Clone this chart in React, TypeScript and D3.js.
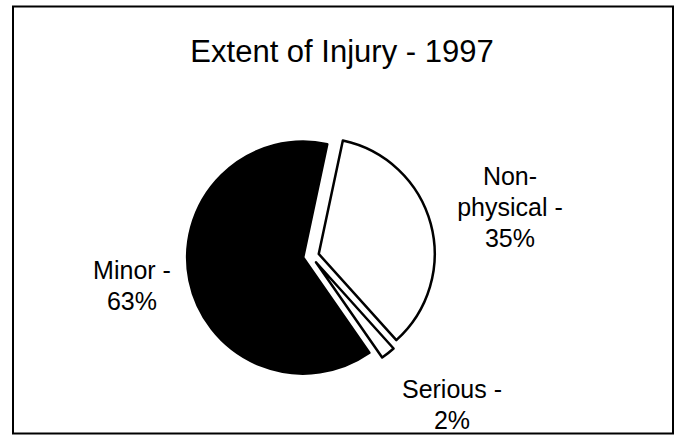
import React from "react";
import * as d3 from "d3";

const title = "Extent of Injury - 1997";
const categories = ["Non-physical", "Serious", "Minor"];
const values = [35, 2, 63];
const labelLines = [
  ["Non-", "physical -", "35%"],
  ["Serious -", "2%"],
  ["Minor -", "63%"],
];
const fills = ["#ffffff", "#ffffff", "#000000"];

const W = 678;
const H = 436;
const cx = 311;
const cy = 256;
const R = 116;
const explode = 8;
const startDeg = 12;

// label anchor positions (center x, first baseline y)
const labelPos = [
  [510, 185],
  [452, 398],
  [132, 279],
];
const lineH = 31;

export default function App() {
  const pie = d3
    .pie<number>()
    .sort(null)
    .value((d) => d)
    .startAngle((startDeg * Math.PI) / 180)
    .endAngle((startDeg * Math.PI) / 180 + 2 * Math.PI);
  const arcs = pie(values);
  const arc = d3.arc<d3.PieArcDatum<number>>().innerRadius(0).outerRadius(R);
  const font = "'Liberation Sans', Arial, Helvetica, sans-serif";

  return (
    <svg
      width={W}
      height={H}
      style={{ position: "absolute", left: 0, top: 0, background: "#fff" }}
    >
      <rect x={0} y={0} width={W} height={H} fill="#fff" />
      <rect
        x={13}
        y={6.5}
        width={660}
        height={427}
        fill="none"
        stroke="#000"
        strokeWidth={2}
      />
      <text
        x={342}
        y={62}
        textAnchor="middle"
        fontFamily={font}
        fontSize={31}
        fill="#000"
      >
        {title}
      </text>
      <g transform={`translate(${cx},${cy})`}>
        {arcs.map((a, i) => {
          const mid = (a.startAngle + a.endAngle) / 2;
          const dx = Math.sin(mid) * explode;
          const dy = -Math.cos(mid) * explode;
          return (
            <path
              key={categories[i]}
              d={arc(a) || ""}
              transform={`translate(${dx},${dy})`}
              fill={fills[i]}
              stroke="#000"
              strokeWidth={2.5}
              strokeLinejoin="round"
            />
          );
        })}
      </g>
      {labelLines.map((lines, i) => (
        <text
          key={categories[i]}
          textAnchor="middle"
          fontFamily={font}
          fontSize={25}
          fill="#000"
        >
          {lines.map((l, j) => (
            <tspan key={j} x={labelPos[i][0]} y={labelPos[i][1] + j * lineH}>
              {l}
            </tspan>
          ))}
        </text>
      ))}
    </svg>
  );
}
